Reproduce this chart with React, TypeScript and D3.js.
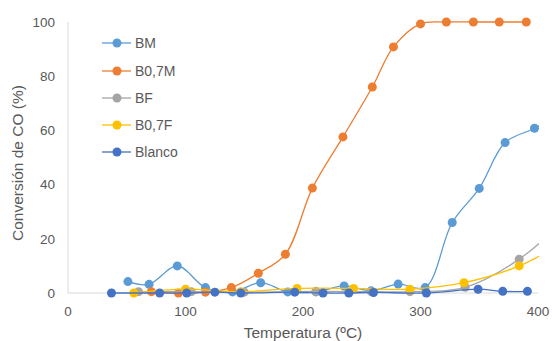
import React from "react";
import * as d3 from "d3";

const seriesNames = ["BM", "B0,7M", "BF", "B0,7F", "Blanco"];
const seriesColors = ["#5B9BD5", "#ED7D31", "#A5A5A5", "#FFC000", "#4472C4"];

const bmX = [51, 69, 93, 117, 140, 164, 187, 211, 235, 258, 281, 304, 327, 350, 372, 397, 420];
const bmY = [4.2, 3.2, 10, 2, 0.4, 3.8, 0.4, 0.4, 2.6, 0.8, 3.3, 2, 26, 38.6, 55.5, 60.8, 67];

const b07mX = [71, 94, 117, 139, 162, 185, 208, 234, 259, 277, 300, 322, 345, 367, 390];
const b07mY = [0.5, 0, 0.3, 2, 7.3, 14.3, 38.7, 57.6, 76, 90.8, 99.3, 100, 100, 100, 100];

const bfX = [60, 105, 150, 211, 258, 291, 338, 384, 430];
const bfY = [0.5, 0.5, 0.3, 0.6, 0.5, 0.5, 2.1, 12.5, 30];

const b07fX = [56, 100, 147, 195, 243, 291, 337, 384, 430];
const b07fY = [0, 1.4, 0.5, 1.7, 1.7, 1.4, 3.8, 10, 21];

const blancoX = [37, 78, 101, 125, 147, 193, 217, 239, 260, 305, 349, 370, 391];
const blancoY = [0, 0, 0, 0.3, 0, 0.3, 0, 0, 0.2, 0, 1.4, 0.6, 0.6];

const xTicks = [0, 100, 200, 300, 400];
const yTicks = [0, 20, 40, 60, 80, 100];

const allX = [bmX, b07mX, bfX, b07fX, blancoX];
const allY = [bmY, b07mY, bfY, b07fY, blancoY];

export default function App() {
  const W = 552, H = 341;
  const left = 68, right = 538, top = 22, bottom = 293;
  const x = d3.scaleLinear().domain([0, 400]).range([left, right]);
  const y = d3.scaleLinear().domain([0, 100]).range([bottom, top]);
  const font = "'Liberation Sans', Arial, sans-serif";
  const textColor = "#595959";

  const line = d3
    .line<[number, number]>()
    .x((d) => x(d[0]))
    .y((d) => y(d[1]))
    .curve(d3.curveCatmullRom.alpha(0.5));

  const legendRows = [43, 71, 98, 125, 152];

  return (
    <svg width={W} height={H} style={{ position: "absolute", left: 0, top: 0, background: "#fff" }}>
      <defs>
        <clipPath id="plot">
          <rect x={left} y={top - 6} width={right - left + 1} height={bottom - top + 12} />
        </clipPath>
      </defs>
      <rect width={W} height={H} fill="#fff" />
      {/* axes */}
      <line x1={left} x2={left} y1={top} y2={bottom} stroke="#D9D9D9" strokeWidth={1} />
      <line x1={left} x2={right} y1={bottom} y2={bottom} stroke="#D9D9D9" strokeWidth={1} />
      {yTicks.map((t) => (
        <text key={"y" + t} x={55} y={y(t)} dy="0.35em" textAnchor="end" fontFamily={font} fontSize={13.5} fill={textColor}>
          {t}
        </text>
      ))}
      {xTicks.map((t) => (
        <text key={"x" + t} x={x(t)} y={311} dy="0.35em" textAnchor="middle" fontFamily={font} fontSize={13.5} fill={textColor}>
          {t}
        </text>
      ))}
      <text x={x(200)} y={333} dy="0.35em" textAnchor="middle" fontFamily={font} fontSize={15.5} fill={textColor}>
        Temperatura (ºC)
      </text>
      <text
        transform={`translate(18,163) rotate(-90)`}
        textAnchor="middle"
        dy="0.35em"
        fontFamily={font}
        fontSize={15.5}
        fill={textColor}
      >
        Conversión de CO (%)
      </text>
      {/* series */}
      <g clipPath="url(#plot)">
        {seriesNames.map((name, i) => {
          const pts: [number, number][] = allX[i].map((v, j) => [v, allY[i][j]]);
          return (
            <g key={name}>
              <path d={line(pts) || ""} fill="none" stroke={seriesColors[i]} strokeWidth={1.3} />
              {pts
                .filter((p) => p[0] <= 400)
                .map((p, j) => (
                  <circle key={j} cx={x(p[0])} cy={y(p[1])} r={4.5} fill={seriesColors[i]} />
                ))}
            </g>
          );
        })}
      </g>
      {/* legend */}
      {seriesNames.map((name, i) => (
        <g key={"lg" + name}>
          <line x1={102} x2={131} y1={legendRows[i]} y2={legendRows[i]} stroke={seriesColors[i]} strokeWidth={1.3} />
          <circle cx={117} cy={legendRows[i]} r={4.5} fill={seriesColors[i]} />
          <text x={135} y={legendRows[i]} dy="0.35em" fontFamily={font} fontSize={14} fill={textColor}>
            {name}
          </text>
        </g>
      ))}
    </svg>
  );
}
